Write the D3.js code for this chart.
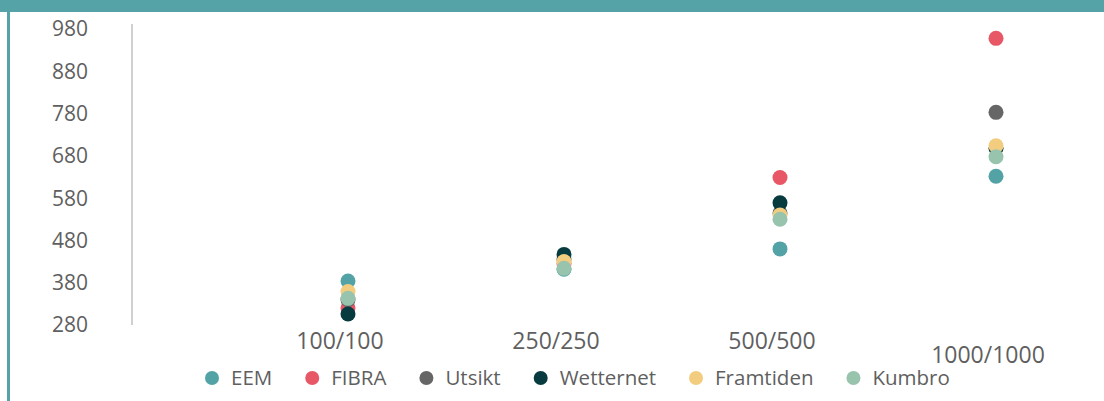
<!DOCTYPE html>
<html>
<head>
<meta charset="utf-8">
<script src="https://cdn.jsdelivr.net/npm/d3@7/dist/d3.min.js"></script>
<style>
  body { margin: 0; background: #fff; }
  text { font-family: "Open Sans", sans-serif; fill: #5f5f5f; }
</style>
</head>
<body>
<div class="chart"></div>
<script>
// speed tiers and one list of prices per operator
var categories = ["100/100", "250/250", "500/500", "1000/1000"];
var seriesNames = ["EEM", "FIBRA", "Utsikt", "Wetternet", "Framtiden", "Kumbro"];
var seriesColors = ["#53a3a6", "#e85765", "#666666", "#073b40", "#f3cd7f", "#98c3ad"];
var eem = [384, 412, 460, 632];
var fibra = [320, 425, 629, 958];
var utsikt = [340, 435, 545, 783];
var wetternet = [306, 447, 569, 698];
var framtiden = [359, 430, 540, 704];
var kumbro = [343, 414, 530, 678];
var yTicks = [280, 380, 480, 580, 680, 780, 880, 980];

var seriesValues = [eem, fibra, utsikt, wetternet, framtiden, kumbro];

var svgWidth = 1104;
var svgHeight = 401;

var svg = d3.select(".chart")
  .append("svg")
  .attr("width", svgWidth)
  .attr("height", svgHeight);

// frame: teal band on top and a thin teal edge on the left
svg.append("rect").attr("x", 0).attr("y", 0).attr("width", svgWidth).attr("height", 12).attr("fill", "#55a3a6");
svg.append("rect").attr("x", 7).attr("y", 0).attr("width", 3).attr("height", svgHeight).attr("fill", "#55a3a6");

// x: category index 0 sits on the axis line
var x = d3.scaleLinear().domain([0, 4]).range([132, 996]);
var y = d3.scaleLinear().domain([280, 992]).range([325, 24]);

// y axis line
svg.append("line")
  .attr("x1", x(0)).attr("x2", x(0))
  .attr("y1", y(280)).attr("y2", y(992))
  .attr("stroke", "#d0d0d0")
  .attr("stroke-width", 2);

svg.selectAll(".ytick")
  .data(yTicks)
  .enter()
  .append("text")
  .attr("class", "ytick")
  .attr("x", 88)
  .attr("y", function(d) { return y(d); })
  .attr("dy", "0.35em")
  .attr("text-anchor", "end")
  .style("font-size", "21px")
  .text(function(d) { return d; });

// category labels, last one drops a line like in the original
svg.selectAll(".xlabel")
  .data(categories)
  .enter()
  .append("text")
  .attr("class", "xlabel")
  .attr("x", function(d, i) { return x(i + 1) - 8; })
  .attr("y", function(d, i) { return i === categories.length - 1 ? 355 : 341; })
  .attr("dy", "0.35em")
  .attr("text-anchor", "middle")
  .style("font-size", "23px")
  .text(function(d) { return d; });

// points, drawn series by series so later ones sit on top
seriesValues.forEach(function(values, s) {
  svg.append("g")
    .selectAll("circle")
    .data(values)
    .enter()
    .append("circle")
    .attr("cx", function(d, i) { return x(i + 1); })
    .attr("cy", function(d) { return y(d); })
    .attr("r", 7.5)
    .attr("fill", seriesColors[s]);
});

// legend
var legend = svg.append("g");
var lx = 212;
seriesNames.forEach(function(name, s) {
  legend.append("circle")
    .attr("cx", lx)
    .attr("cy", 378)
    .attr("r", 7)
    .attr("fill", seriesColors[s]);
  var t = legend.append("text")
    .attr("x", lx + 19)
    .attr("y", 378)
    .attr("dy", "0.35em")
    .style("font-size", "20.5px")
    .text(name);
  lx = lx + 19 + t.node().getComputedTextLength() + 40;
});
</script>
</body>
</html>
